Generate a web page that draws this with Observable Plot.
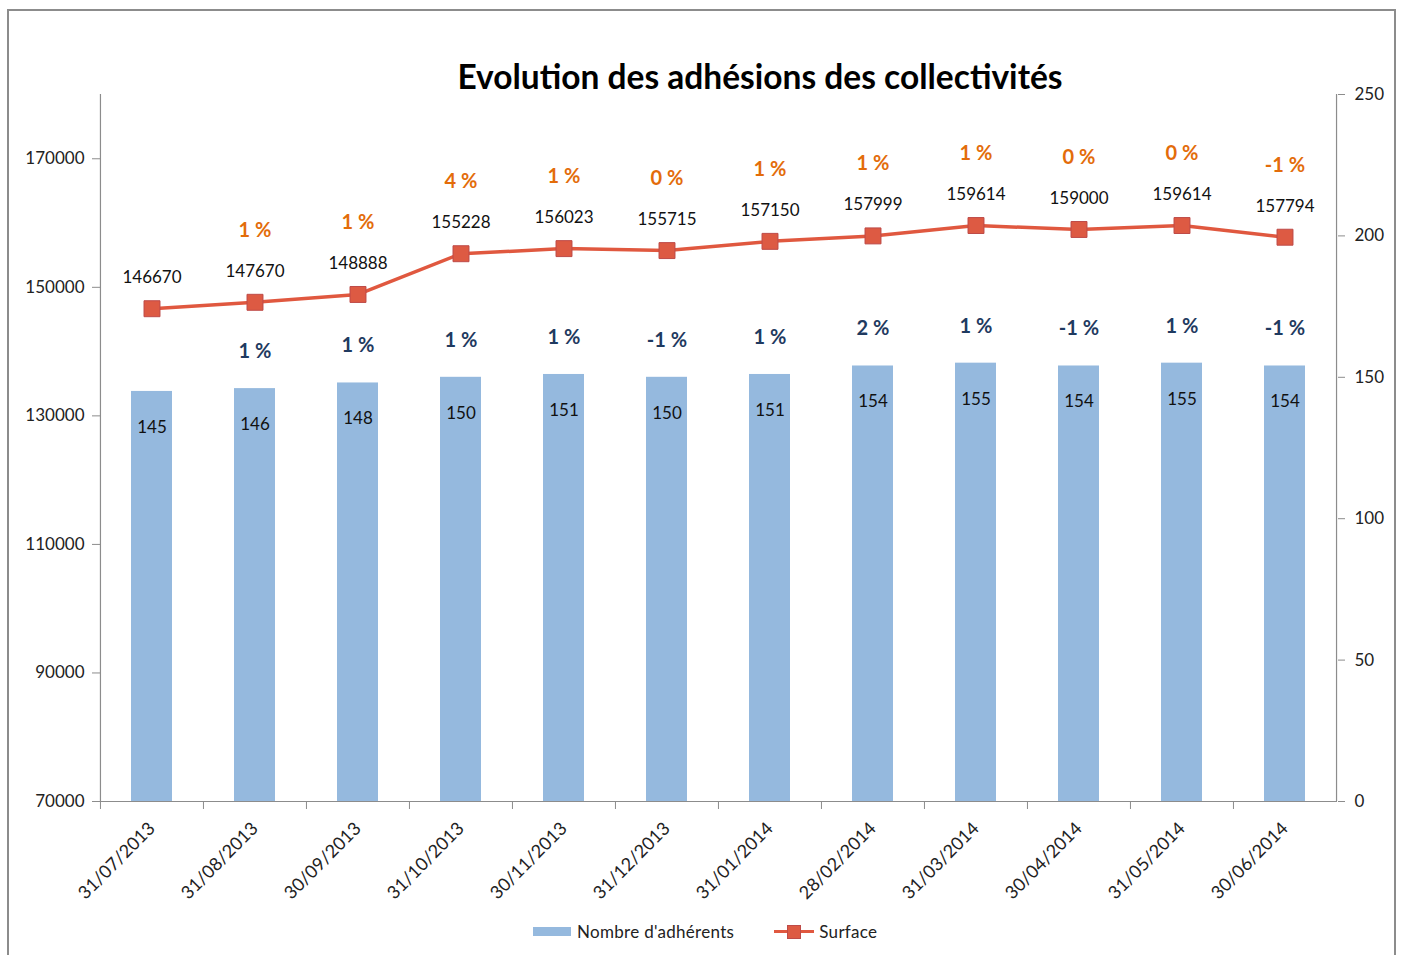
<!DOCTYPE html>
<html>
<head>
<meta charset="utf-8">
<script src="https://cdn.jsdelivr.net/npm/d3@7"></script>
<script src="https://cdn.jsdelivr.net/npm/@observablehq/plot@0.6"></script>
<style>
  html, body { margin: 0; padding: 0; background: #fff; }
  body { width: 1406px; height: 955px; position: relative; overflow: hidden; font-family: Lato, "Open Sans", sans-serif; }
  #frame { position: absolute; left: 7px; top: 9px; width: 1389px; height: 1000px; border: 2px solid #8c8c8c; box-sizing: border-box; }
  #title { position: absolute; left: 0; width: 1520px; top: 56px; text-align: center; font-weight: bold; font-size: 33.5px; color: #000; }
  #chart { position: absolute; left: 0; top: 0; }
  #legend { position: absolute; top: 921px; left: 533px; font-size: 17px; color: #222; display: flex; align-items: center; letter-spacing: 0.3px; }
  .sw-bar { width: 38px; height: 9px; background: #95b9de; display: inline-block; margin-right: 6px; }
  .sw-line { width: 40px; height: 14px; position: relative; display: inline-block; margin-left: 40px; margin-right: 5px; }
  .sw-line::before { content: ""; position: absolute; left: 0; right: 0; top: 5.5px; height: 3px; background: #e0583f; }
  .sw-line::after { content: ""; position: absolute; left: 13px; top: 0; width: 12px; height: 12px; background: #dd5a43; border: 1px solid #be4b48; }
</style>
</head>
<body>
<div id="frame"></div>
<div id="title">Evolution des adhésions des collectivités</div>
<div id="chart"></div>
<div id="legend"><span class="sw-bar"></span><span>Nombre d'adhérents</span><span class="sw-line"></span><span>Surface</span></div>
<script>
const dates = ["31/07/2013","31/08/2013","30/09/2013","31/10/2013","30/11/2013","31/12/2013","31/01/2014","28/02/2014","31/03/2014","30/04/2014","31/05/2014","30/06/2014"];
const adherents = [145,146,148,150,151,150,151,154,155,154,155,154];
const surface = [146670,147670,148888,155228,156023,155715,157150,157999,159614,159000,159614,157794];
const adherentsPct = [null,"1 %","1 %","1 %","1 %","-1 %","1 %","2 %","1 %","-1 %","1 %","-1 %"];
const surfacePct = [null,"1 %","1 %","4 %","1 %","0 %","1 %","1 %","1 %","0 %","0 %","-1 %"];
const leftTicks = [70000,90000,110000,130000,150000,170000];
const rightTicks = [0,50,100,150,200,250];
const leftDomain = [70000,180000];
const rightMax = 250;

const toLeft = v => leftDomain[0] + v / rightMax * (leftDomain[1] - leftDomain[0]);
const rows = dates.map((d, i) => ({date: d, adh: adherents[i], surf: surface[i], adhPct: adherentsPct[i], surfPct: surfacePct[i]}));

const W = 1406, H = 915, mL = 100, mR = 69, mT = 94, mB = 114;
const bw = (W - mL - mR) / dates.length;
const gray = "#8c8c8c";

const chart = Plot.plot({
  width: W, height: H,
  marginLeft: mL, marginRight: mR, marginTop: mT, marginBottom: mB,
  style: {fontFamily: "Lato, 'Open Sans', sans-serif", fontSize: "17px", color: "#222", background: "transparent", overflow: "visible"},
  x: {domain: dates, paddingInner: 0.6, paddingOuter: 0.3, label: null},
  y: {domain: leftDomain, label: null},
  marks: [
    Plot.barY(rows, {x: "date", y1: leftDomain[0], y2: d => toLeft(d.adh), fill: "#95b9de"}),
    Plot.ruleY([leftDomain[0]], {stroke: gray, strokeWidth: 1.2}),
    Plot.ruleX([dates[0]], {stroke: gray, strokeWidth: 1.2, dx: -bw / 2}),
    Plot.ruleX([dates[dates.length - 1]], {stroke: gray, strokeWidth: 1.2, dx: bw / 2}),
    Plot.axisX({tickSize: 8, tickFormat: () => "", stroke: gray, dx: -bw / 2}),
    Plot.axisX({tickSize: 0, tickRotate: -45, tickPadding: 24, fontSize: 18, fill: "#222"}),
    Plot.axisY({ticks: leftTicks, tickFormat: d => String(d), tickSize: 8, tickPadding: 8, stroke: gray, fill: "#222", fontSize: 17, label: null}),
    Plot.axisY({anchor: "right", ticks: rightTicks.map(toLeft), tickFormat: d => String(Math.round((d - leftDomain[0]) / (leftDomain[1] - leftDomain[0]) * rightMax)), tickSize: 7, tickPadding: 10, stroke: gray, fill: "#222", fontSize: 17, label: null}),
    Plot.line(rows, {x: "date", y: "surf", stroke: "#e0583f", strokeWidth: 3.5}),
    Plot.dot(rows, {x: "date", y: "surf", symbol: "square", r: 9, fill: "#dd5a43", stroke: "#be4b48", strokeWidth: 1}),
    Plot.text(rows, {x: "date", y: d => toLeft(d.adh), text: d => String(d.adh), dy: 36, fontSize: 17, fill: "#111"}),
    Plot.text(rows.filter(d => d.adhPct), {x: "date", y: d => toLeft(d.adh), text: "adhPct", dy: -37, fontSize: 20, fontWeight: "bold", fill: "#1f3a60"}),
    Plot.text(rows, {x: "date", y: "surf", text: d => String(d.surf), dy: -31, fontSize: 17, fill: "#111"}),
    Plot.text(rows.filter(d => d.surfPct), {x: "date", y: "surf", text: "surfPct", dy: -72, fontSize: 20, fontWeight: "bold", fill: "#e36c0a"})
  ]
});
document.getElementById("chart").appendChild(chart);
</script>
</body>
</html>
